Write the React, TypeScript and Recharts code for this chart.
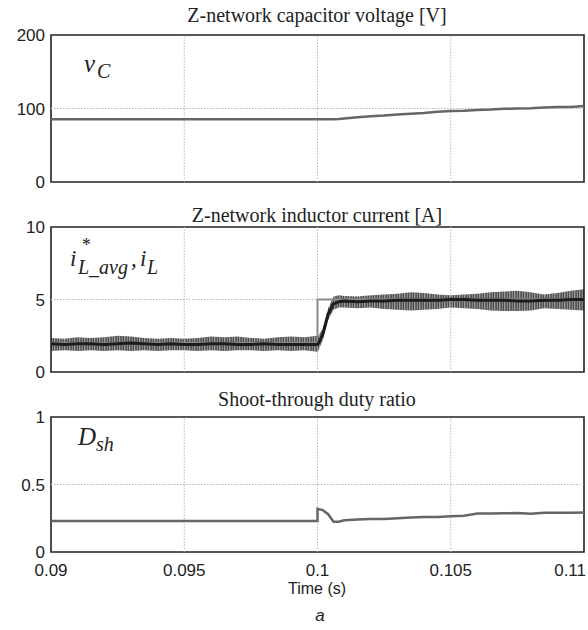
import React from 'react';
import {
  ComposedChart,
  Line,
  Area,
  XAxis,
  YAxis,
  ReferenceLine,
  ReferenceArea,
} from 'recharts';

// time base (s) shared by every panel
const time = [
  0.09, 0.0905, 0.091, 0.0915, 0.092, 0.0925, 0.093, 0.0935, 0.094, 0.0945,
  0.095, 0.0955, 0.096, 0.0965, 0.097, 0.0975, 0.098, 0.0985, 0.099, 0.0995,
  0.1, 0.1, 0.1002, 0.1004, 0.1006, 0.1008, 0.101, 0.1015, 0.102, 0.1025,
  0.103, 0.1035, 0.104, 0.1045, 0.105, 0.1055, 0.106, 0.1065, 0.107, 0.1075,
  0.108, 0.1085, 0.109, 0.1095, 0.11,
];

// Z-network capacitor voltage vC [V]
const capVoltage = [
  85.5, 85.5, 85.5, 85.5, 85.5, 85.5, 85.5, 85.5, 85.5, 85.5,
  85.5, 85.5, 85.5, 85.5, 85.5, 85.5, 85.5, 85.5, 85.5, 85.5,
  85.5, 85.5, 85.5, 85.5, 85.5, 85.8, 86.5, 88, 89.5, 90.5,
  92, 93, 94, 95.5, 96.5, 97, 98, 98.5, 99.5, 100,
  100.5, 101.5, 102, 102, 103.5,
];

// inductor current reference i*L_avg [A]
const iRef = [
  2, 2, 2, 2, 2, 2, 2, 2, 2, 2,
  2, 2, 2, 2, 2, 2, 2, 2, 2, 2,
  2, 5, 5, 5, 5, 5, 5, 5, 5, 5,
  5, 5, 5, 5, 5, 5, 5, 5, 5, 5,
  5, 5, 5, 5, 5,
];

// measured inductor current iL: average and ripple envelope [A]
const iMean = [
  1.95, 1.9, 1.95, 1.95, 1.9, 1.95, 2.0, 1.95, 1.9, 1.95,
  1.9, 1.9, 1.95, 1.95, 1.9, 1.9, 1.95, 1.9, 1.9, 1.9,
  1.9, 1.85, 2.6, 4.0, 4.7, 4.85, 4.9, 4.85, 4.9, 4.9,
  4.95, 4.95, 4.95, 4.95, 5.0, 5.0, 4.95, 4.95, 4.95, 4.9,
  4.9, 4.95, 4.95, 5.0, 5.0,
];
const iLow = [
  1.45, 1.5, 1.45, 1.5, 1.45, 1.5, 1.45, 1.5, 1.45, 1.5,
  1.5, 1.45, 1.5, 1.45, 1.5, 1.5, 1.45, 1.5, 1.45, 1.5,
  1.4, 1.35, 2.2, 3.6, 4.3, 4.45, 4.45, 4.4, 4.45, 4.35,
  4.3, 4.25, 4.3, 4.35, 4.45, 4.4, 4.35, 4.25, 4.2, 4.2,
  4.25, 4.4, 4.35, 4.3, 4.25,
];
const iHigh = [
  2.35, 2.3, 2.4, 2.35, 2.4, 2.5, 2.45, 2.35, 2.3, 2.35,
  2.3, 2.35, 2.45, 2.4, 2.45, 2.35, 2.3, 2.4, 2.45, 2.4,
  2.5, 2.4, 3.0, 4.4, 5.2, 5.3, 5.25, 5.2, 5.3, 5.35,
  5.4, 5.5, 5.45, 5.35, 5.3, 5.35, 5.4, 5.5, 5.55, 5.6,
  5.5, 5.35, 5.45, 5.6, 5.7,
];

// shoot-through duty ratio Dsh
const dutyRatio = [
  0.23, 0.23, 0.23, 0.23, 0.23, 0.23, 0.23, 0.23, 0.23, 0.23,
  0.23, 0.23, 0.23, 0.23, 0.23, 0.23, 0.23, 0.23, 0.23, 0.23,
  0.23, 0.32, 0.31, 0.28, 0.225, 0.225, 0.235, 0.24, 0.245, 0.245,
  0.25, 0.255, 0.26, 0.26, 0.265, 0.268, 0.285, 0.285, 0.287, 0.288,
  0.284, 0.29, 0.29, 0.29, 0.292,
];

const xTicks = [0.09, 0.095, 0.1, 0.105, 0.11];
const vTicks = [0, 100, 200];
const iTicks = [0, 5, 10];
const dTicks = [0, 0.5, 1];

const rows = time.map((t, i) => ({
  t,
  vc: capVoltage[i],
  ref: iRef[i],
  mean: iMean[i],
  band: [iLow[i], iHigh[i]],
  d: dutyRatio[i],
}));

const tickFont = { fontFamily: 'Liberation Sans, Arial, sans-serif', fontSize: 17, fill: '#222' };
const titleStyle: React.CSSProperties = {
  position: 'absolute',
  left: 0,
  width: 634,
  textAlign: 'center',
  fontFamily: 'Liberation Serif, Times New Roman, serif',
  fontSize: 20,
  color: '#222',
  lineHeight: '20px',
};

function TimeTick(props: any) {
  const { x, y, payload } = props;
  const last = payload.value === 0.11;
  return (
    <text
      x={last ? x + 2 : x}
      y={y + 22}
      textAnchor={last ? 'end' : 'middle'}
      {...tickFont}
    >
      {String(payload.value)}
    </text>
  );
}

// dotted grid at the inner ticks
function grid(mid: number) {
  return [
    ...[0.095, 0.1, 0.105].map((x) => (
      <ReferenceLine key={'gx' + x} x={x} stroke="#b8b8b8" strokeDasharray="1.5 1.5" />
    )),
    <ReferenceLine key="gy" y={mid} stroke="#b8b8b8" strokeDasharray="1.5 1.5" />,
  ];
}

function border(yMax: number) {
  return (
    <ReferenceArea
      x1={0.09}
      x2={0.11}
      y1={0}
      y2={yMax}
      fill="none"
      stroke="#222"
      strokeWidth={1.6}
      ifOverflow="visible"
    />
  );
}

function yAxis(max: number, ticks: number[]) {
  return (
    <YAxis
      type="number"
      domain={[0, max]}
      ticks={ticks}
      width={51}
      axisLine={false}
      tickLine={false}
      tickSize={0}
      tickMargin={6}
      tick={tickFont}
      interval={0}
    />
  );
}

export default function App() {
  return (
    <div style={{ position: 'absolute', left: 0, top: 0, width: 588, height: 630, background: '#fff' }}>
      <div style={{ ...titleStyle, top: 5 }}>Z-network capacitor voltage [V]</div>
      <div style={{ ...titleStyle, top: 205 }}>Z-network inductor current [A]</div>
      <div style={{ ...titleStyle, top: 389 }}>Shoot-through duty ratio</div>

      <div style={{ position: 'absolute', left: 0, top: 0 }}>
        <ComposedChart width={588} height={195} data={rows} margin={{ top: 35, right: 4, bottom: 13, left: 0 }}>
          <XAxis dataKey="t" type="number" domain={[0.09, 0.11]} ticks={xTicks} hide allowDataOverflow />
          {yAxis(200, vTicks)}
          {grid(100)}
          <Line dataKey="vc" type="linear" stroke="#666" strokeWidth={2.5} dot={false} activeDot={false} isAnimationActive={false} />
          {border(200)}
        </ComposedChart>
      </div>

      <div style={{ position: 'absolute', left: 0, top: 195 }}>
        <ComposedChart width={588} height={190} data={rows} margin={{ top: 32, right: 4, bottom: 13, left: 0 }}>
          <defs>
            <pattern id="ripple" width="2.5" height="4" patternUnits="userSpaceOnUse">
              <rect width="2.5" height="4" fill="#a4a4a4" />
              <line x1="1" y1="0" x2="1" y2="4" stroke="#2a2a2a" strokeWidth="1.1" />
            </pattern>
          </defs>
          <XAxis dataKey="t" type="number" domain={[0.09, 0.11]} ticks={xTicks} hide allowDataOverflow />
          {yAxis(10, iTicks)}
          {grid(5)}
          <Line dataKey="ref" type="linear" stroke="#8a8a8a" strokeWidth={2} dot={false} activeDot={false} isAnimationActive={false} />
          <Area dataKey="band" type="linear" stroke="none" fill="url(#ripple)" fillOpacity={1} dot={false} activeDot={false} isAnimationActive={false} />
          <Line dataKey="mean" type="linear" stroke="#1c1c1c" strokeWidth={3} dot={false} activeDot={false} isAnimationActive={false} />
          {border(10)}
        </ComposedChart>
      </div>

      <div style={{ position: 'absolute', left: 0, top: 385 }}>
        <ComposedChart width={588} height={245} data={rows} margin={{ top: 32, right: 4, bottom: 48, left: 0 }}>
          <XAxis
            dataKey="t"
            type="number"
            domain={[0.09, 0.11]}
            ticks={xTicks}
            height={30}
            axisLine={false}
            tickLine={false}
            tickSize={0}
            tick={<TimeTick />}
            interval={0}
            allowDataOverflow
          />
          {yAxis(1, dTicks)}
          {grid(0.5)}
          <Line dataKey="d" type="linear" stroke="#666" strokeWidth={2.5} dot={false} activeDot={false} isAnimationActive={false} />
          {border(1)}
        </ComposedChart>
      </div>

      <svg width={588} height={630} style={{ position: 'absolute', left: 0, top: 0, pointerEvents: 'none' }}>
        <g fontFamily="Liberation Serif, Times New Roman, serif" fontStyle="italic" fill="#222">
          <text x={84} y={72} fontSize={25}>v</text>
          <text x={97} y={78} fontSize={20}>C</text>

          <text x={70} y={266} fontSize={23}>i</text>
          <text x={81} y={251} fontSize={18}>*</text>
          <text x={78} y={274} fontSize={20}>L_avg</text>
          <text x={131} y={266} fontSize={23}>,</text>
          <text x={140} y={266} fontSize={23}>i</text>
          <text x={147} y={274} fontSize={20}>L</text>

          <text x={78} y={445} fontSize={25}>D</text>
          <text x={96} y={451} fontSize={20}>sh</text>
        </g>
        <text x={317} y={594} textAnchor="middle" fontFamily="Liberation Sans, Arial, sans-serif" fontSize={16} fill="#222">
          Time (s)
        </text>
        <text x={320} y={621} textAnchor="middle" fontFamily="Liberation Sans, Arial, sans-serif" fontStyle="italic" fontSize={17} fill="#222">
          a
        </text>
      </svg>
    </div>
  );
}
